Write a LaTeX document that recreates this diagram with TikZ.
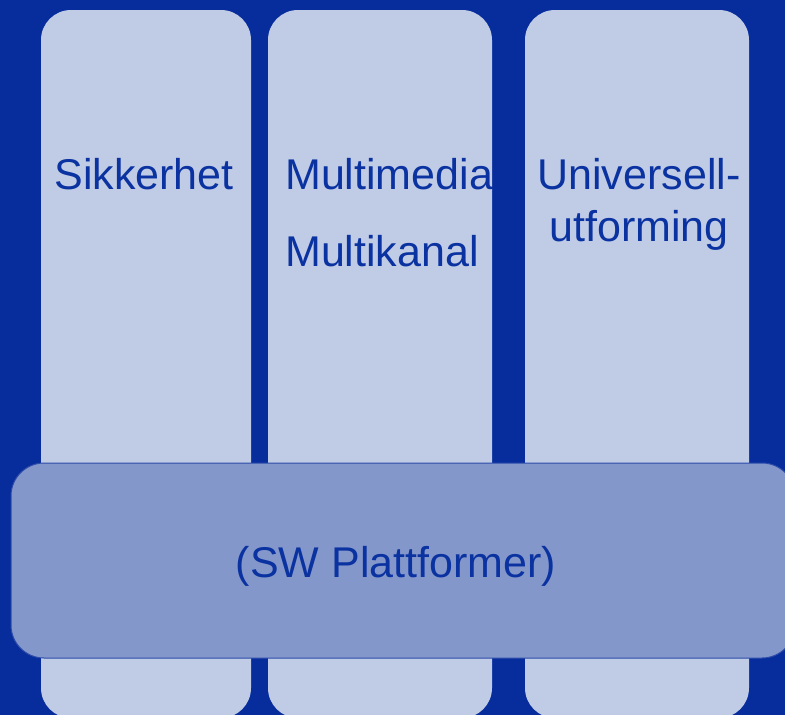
\documentclass[tikz,border=0pt]{standalone}
\usepackage{fontspec}
\setmainfont{Liberation Sans}
\definecolor{bgblue}{RGB}{6,45,155}
\definecolor{colblue}{RGB}{192,203,230}
\definecolor{baseblue}{RGB}{132,151,203}
\definecolor{edgeblue}{RGB}{45,75,170}
\definecolor{txtblue}{RGB}{10,50,160}
\begin{document}
\begin{tikzpicture}[x=1pt, y=-1pt,
    pillar/.style={fill=colblue, rounded corners=30pt},
    base/.style={fill=baseblue, draw=edgeblue, line width=1pt, rounded corners=33pt},
    lbl/.style={text=txtblue, font=\fontsize{43}{46}\selectfont, inner sep=0pt}]
    \fill[bgblue] (0, 0) rectangle (785, 715);
    \useasboundingbox (0, 0) rectangle (785, 715);
    \fill[pillar] (41, 10) rectangle (251, 718);
    \fill[pillar] (268, 10) rectangle (492, 718);
    \fill[pillar] (525, 10) rectangle (749, 718);
    \draw[base] (11, 463) rectangle (795, 658);
    \node[lbl, anchor=base] (sik) at (144, 189) {Sikkerhet};
    \node[lbl, anchor=base west] (mmedia) at (285, 189) {Multimedia};
    \node[lbl, anchor=base west] (mkanal) at (285, 266) {Multikanal};
    \node[lbl, anchor=base] (univ) at (639, 189) {Universell-};
    \node[lbl, anchor=base] (utform) at (639, 241) {utforming};
    \node[lbl, anchor=base] (plattf) at (396, 577) {(SW Plattformer)};
  \end{tikzpicture}
\end{document}
